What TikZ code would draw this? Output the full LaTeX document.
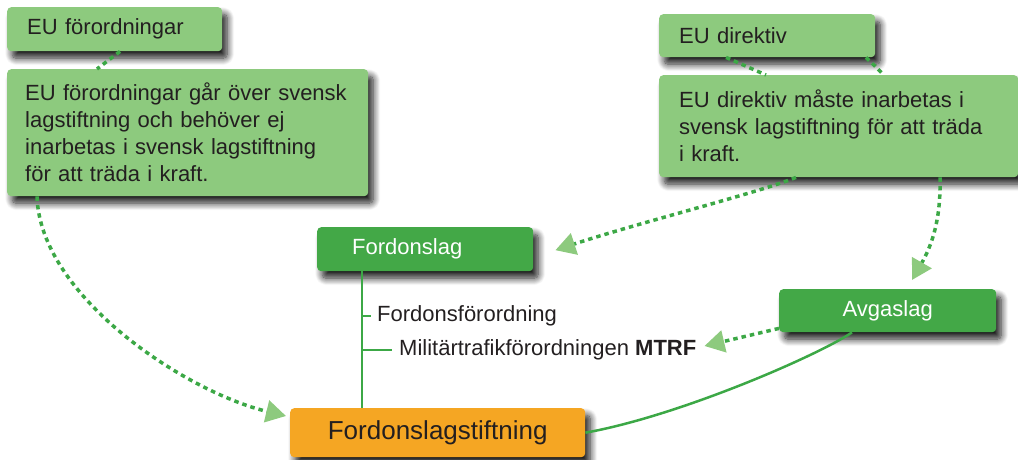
\documentclass[tikz,border=0pt]{standalone}
\usepackage{fontspec}
\setmainfont{Liberation Sans}
\usetikzlibrary{arrows.meta,shadows.blur,calc}
\definecolor{lgreen}{RGB}{141,202,126}
\definecolor{dgreen}{RGB}{67,168,71}
\definecolor{lineg}{RGB}{60,168,70}
\definecolor{orangebox}{RGB}{245,166,35}
\definecolor{txt}{RGB}{35,31,32}
\begin{document}
\begin{tikzpicture}[x=1pt,y=-1pt,
 box/.style={rounded corners=4pt, anchor=north west, inner ysep=0pt, align=left,
   font=\fontsize{22}{27}\selectfont, text=txt,
   blur shadow={shadow xshift=5pt, shadow yshift=-7pt, shadow blur radius=7pt, shadow blur steps=12, shadow opacity=90}},
 lbox/.style={box, fill=lgreen},
 dbox/.style={box, fill=dgreen, text=white},
 dots/.style={lineg, line width=3.5pt, dash pattern=on 4.5pt off 4pt},
 tip/.style={-{Triangle[length=20pt,width=22pt,color=lgreen,fill=lgreen]}},
 trunk/.style={lineg, line width=2.5pt},
 lbl/.style={font=\fontsize{22}{27}\selectfont, text=txt, inner xsep=3pt, inner ysep=0pt, anchor=west}
]
\useasboundingbox (0,0) rectangle (1018,460);

\node[lbox, text width=175pt, inner xsep=20pt, minimum height=44pt] (eufo) at (7,7) {EU förordningar};
\node[lbox, text width=325pt, inner xsep=18pt, minimum height=127pt] (eufotext) at (7,69)
  {EU förordningar går över svensk\\lagstiftning och behöver ej\\inarbetas i svensk lagstiftning\\för att träda i kraft.};
\node[lbox, text width=176pt, inner xsep=20pt, minimum height=43pt] (eudir) at (659,14) {EU direktiv};
\node[lbox, text width=319pt, inner xsep=20pt, minimum height=102pt] (eudirtext) at (659,75)
  {EU direktiv måste inarbetas i\\svensk lagstiftning för att träda\\i kraft.};
\node[dbox, text width=146pt, inner xsep=35pt, minimum height=44pt] (fordonslag) at (317,227) {Fordonslag};
\node[dbox, text width=177pt, inner xsep=20pt, minimum height=43pt, align=center] (avgas) at (779,289) {Avgaslag};
\node[box, fill=orangebox, text width=255pt, inner xsep=20pt, minimum height=49pt, align=center,
  font=\fontsize{26}{30}\selectfont] (lagst) at (290,408) {Fordonslagstiftning};

\node[lbl] (ffo) at (374,316) {Fordonsförordning};
\node[lbl] (mtrf) at (396,350) {Militärtrafikförordningen \textbf{MTRF}};

\coordinate (tr) at ([xshift=45pt]fordonslag.south west);
\draw[trunk] (tr) -- (tr |- lagst.north);
\draw[trunk] (tr |- ffo.west) -- ([xshift=-3pt]ffo.west);
\draw[trunk] (tr |- mtrf.west) -- ([xshift=-4pt]mtrf.west);

\draw[dots] ([xshift=113pt]eufo.south west) -- ([xshift=90pt]eufotext.north west);
\draw[dots] ([xshift=67pt]eudir.south west) -- ([xshift=107pt]eudirtext.north west);
\draw[dots] ([xshift=207pt]eudir.south west) -- ([xshift=225pt]eudirtext.north west);

\draw[dots,tip] ([xshift=30pt]eufotext.south west) .. controls +(3,100) and +(-100,-24) .. ([xshift=-4pt,yshift=-8pt]lagst.north west);
\draw[dots,tip] ([xshift=137pt]eudirtext.south west) .. controls +(-36,15) and +(85,-28) .. ([xshift=22pt,yshift=-1pt]fordonslag.east);
\draw[dots,tip] ([xshift=281pt]eudirtext.south west) .. controls +(1,42) and +(20,-35) .. ([xshift=133pt,yshift=9pt]avgas.north west);
\draw[dots,tip] ([yshift=4pt]avgas.south west) -- ([xshift=5pt,yshift=4pt]mtrf.east);

\draw[trunk] ([xshift=73pt]avgas.south west) .. controls +(-32,22) and +(95,-17) .. (lagst.east);
\end{tikzpicture}
\end{document}
